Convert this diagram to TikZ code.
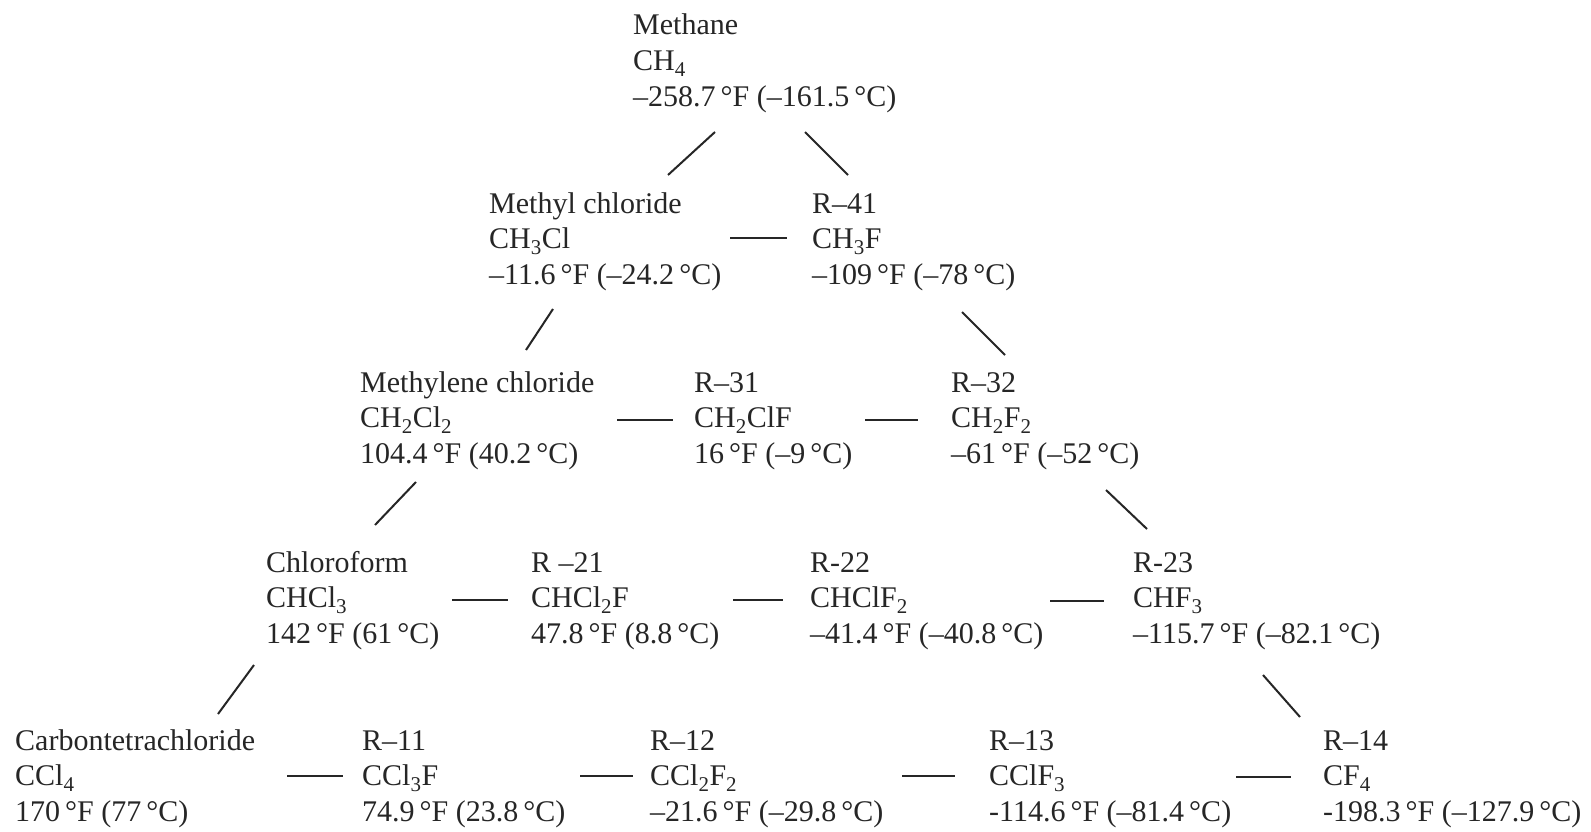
\documentclass[tikz,border=0pt]{standalone}
\usepackage{fontspec}
\setmainfont{Liberation Serif}
\definecolor{ink}{HTML}{262626}
\newcommand{\cpd}[3]{\vtop{\hbox{#1}\hbox{#2}\hbox{#3}}}
\newcommand{\dg}{\,°}
\begin{document}
\begin{tikzpicture}[x=1pt,y=-1pt,
  cmp/.style={anchor=base west,inner sep=0pt,text=ink,font=\fontsize{30}{35.8}\selectfont},
  link/.style={draw=ink,line width=2pt}]
\useasboundingbox[fill=white] (0,0) rectangle (1591,832);
% row 1
\node[cmp] (methane) at (633,35) {\cpd{Methane}{CH\textsubscript{4}}{–258.7\dg F (–161.5\dg C)}};
% row 2
\node[cmp] (mecl) at (489,213) {\cpd{Methyl chloride}{CH\textsubscript{3}Cl}{–11.6\dg F (–24.2\dg C)}};
\node[cmp] (r41) at (812,213) {\cpd{R–41}{CH\textsubscript{3}F}{–109\dg F (–78\dg C)}};
% row 3
\node[cmp] (mecl2) at (360,392) {\cpd{Methylene chloride}{CH\textsubscript{2}Cl\textsubscript{2}}{104.4\dg F (40.2\dg C)}};
\node[cmp] (r31) at (694,392) {\cpd{R–31}{CH\textsubscript{2}ClF}{16\dg F (–9\dg C)}};
\node[cmp] (r32) at (951,392) {\cpd{R–32}{CH\textsubscript{2}F\textsubscript{2}}{–61\dg F (–52\dg C)}};
% row 4
\node[cmp] (chcl3) at (266,572) {\cpd{Chloroform}{CHCl\textsubscript{3}}{142\dg F (61\dg C)}};
\node[cmp] (r21) at (531,572) {\cpd{R –21}{CHCl\textsubscript{2}F}{47.8\dg F (8.8\dg C)}};
\node[cmp] (r22) at (810,572) {\cpd{R-22}{CHClF\textsubscript{2}}{–41.4\dg F (–40.8\dg C)}};
\node[cmp] (r23) at (1133,572) {\cpd{R-23}{CHF\textsubscript{3}}{–115.7\dg F (–82.1\dg C)}};
% row 5
\node[cmp] (ccl4) at (15,750) {\cpd{Carbontetrachloride}{CCl\textsubscript{4}}{170\dg F (77\dg C)}};
\node[cmp] (r11) at (362,750) {\cpd{R–11}{CCl\textsubscript{3}F}{74.9\dg F (23.8\dg C)}};
\node[cmp] (r12) at (650,750) {\cpd{R–12}{CCl\textsubscript{2}F\textsubscript{2}}{–21.6\dg F (–29.8\dg C)}};
\node[cmp] (r13) at (989,750) {\cpd{R–13}{CClF\textsubscript{3}}{-114.6\dg F (–81.4\dg C)}};
\node[cmp] (r14) at (1323,750) {\cpd{R–14}{CF\textsubscript{4}}{-198.3\dg F (–127.9\dg C)}};
% diagonal connectors
\draw[link] (715,132) -- (668,175);
\draw[link] (805,132) -- (848,175);
\draw[link] (553,309) -- (526,350);
\draw[link] (962,312) -- (1005,355);
\draw[link] (416,482) -- (375,525);
\draw[link] (1106,490) -- (1147,529);
\draw[link] (254,665) -- (218,714);
\draw[link] (1263,675) -- (1300,717);
% horizontal connectors
\draw[link] (730,238) -- (787,238);
\draw[link] (617,420) -- (673,420);
\draw[link] (865,420) -- (918,420);
\draw[link] (452,600) -- (508,600);
\draw[link] (733,600) -- (783,600);
\draw[link] (1050,601) -- (1104,601);
\draw[link] (287,776) -- (343,776);
\draw[link] (580,776) -- (633,776);
\draw[link] (902,776) -- (955,776);
\draw[link] (1236,777) -- (1291,777);
\end{tikzpicture}
\end{document}
